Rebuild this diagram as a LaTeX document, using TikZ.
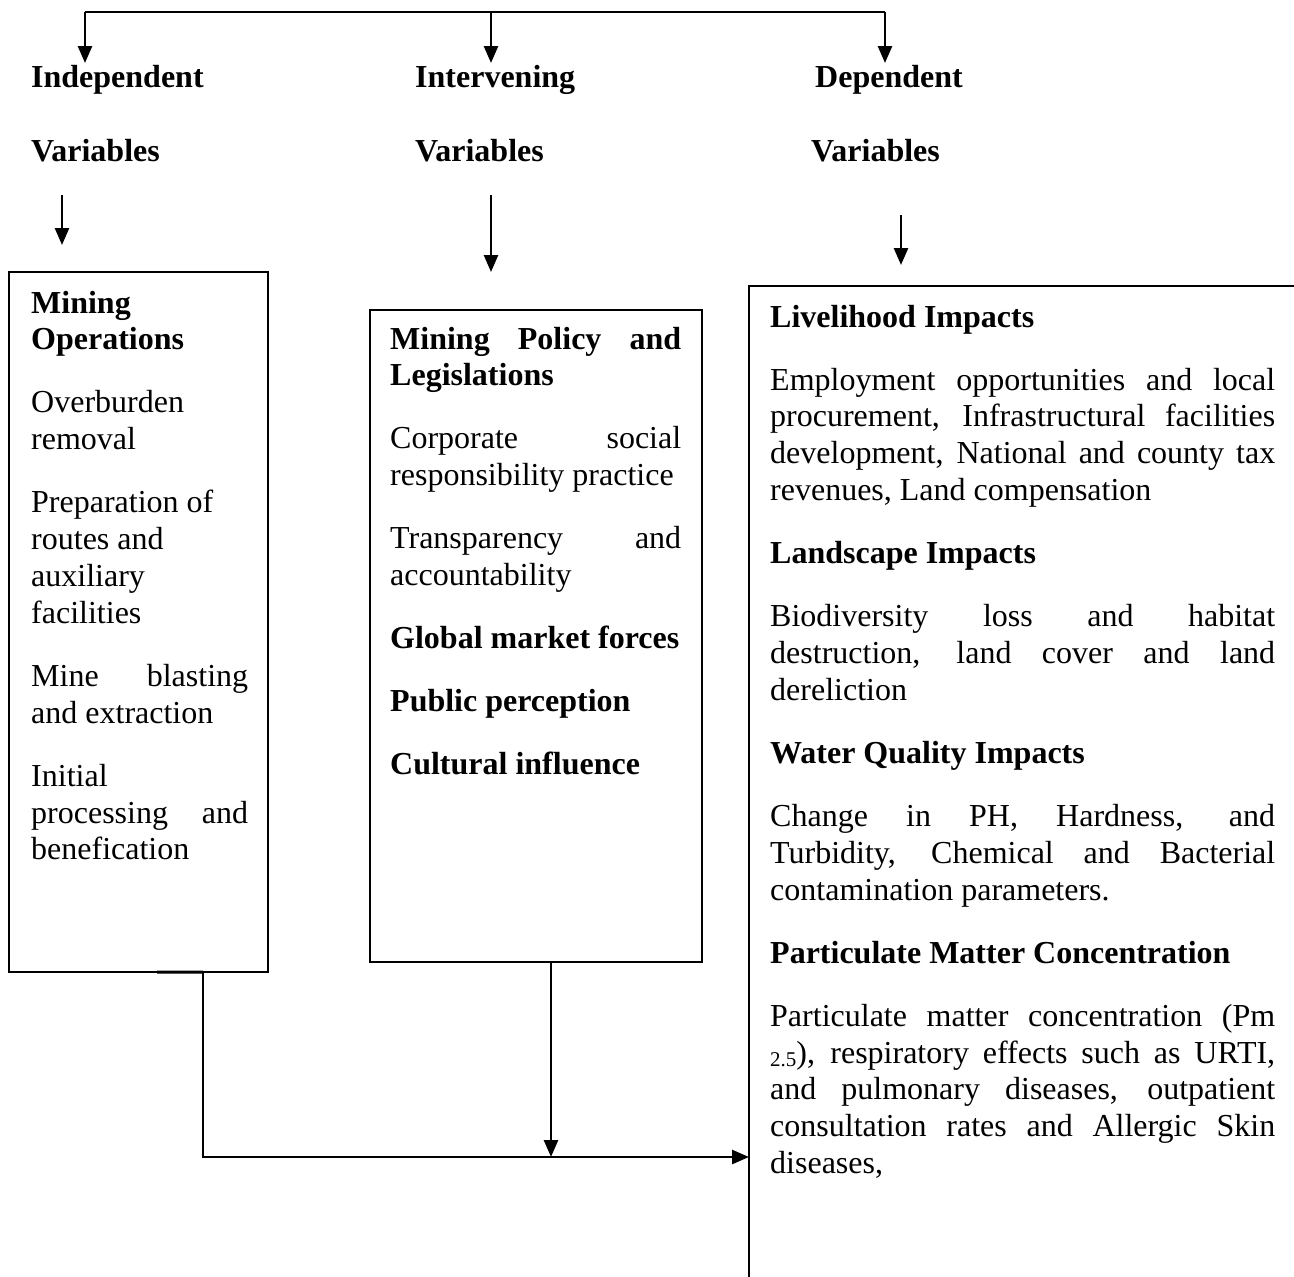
\documentclass[tikz,border=0pt]{standalone}
\usepackage{fontspec}
\setmainfont{Liberation Serif}
\usetikzlibrary{arrows.meta}
\newcommand\bodyfont{\fontsize{32bp}{36.8bp}\selectfont}
\newcommand\boxtext[2]{\parbox[t]{#1}{\setlength\parskip{26.3bp}\hyphenpenalty=10000 \tolerance=10000 \emergencystretch=20bp #2}}
\begin{document}
\begin{tikzpicture}[x=1bp,y=-1bp,
  frame/.style={draw, line width=1.6bp, inner sep=0, outer sep=0, rectangle, anchor=north west},
  arr/.style={line width=2.6bp, -{Triangle[length=17bp,width=14bp]}},
  link/.style={line width=2.6bp},
  hdr/.style={inner sep=0, anchor=base west, font=\bodyfont\bfseries},
  txt/.style={inner sep=0, anchor=base west, font=\bodyfont}]
\clip (0,0) rectangle (1294,1277);
\fill[white] (0,0) rectangle (1294,1277);

% top distributor
\coordinate (tL) at (85,12);
\coordinate (tM) at (491,12);
\coordinate (tR) at (885,12);
\coordinate (eL) at (85,63);
\coordinate (eM) at (491,63);
\coordinate (eR) at (885,63);
\draw[link] (tL) -- (tR);
\draw[arr] (tL) -- (eL);
\draw[arr] (tM) -- (eM);
\draw[arr] (tR) -- (eR);

% headers
\node[hdr] (h1) at (31,87) {Independent};
\node[hdr] (h1v) at (31,161) {Variables};
\node[hdr] (h2) at (415,87) {Intervening};
\node[hdr] (h2v) at (415,161) {Variables};
\node[hdr] (h3) at (815,87) {Dependent};
\node[hdr] (h3v) at (811,161) {Variables};

% arrows below headers
\coordinate (s1) at (62,195);
\coordinate (f1) at (62,245);
\coordinate (s2) at (491,195);
\coordinate (f2) at (491,272);
\coordinate (s3) at (901,215);
\coordinate (f3) at (901,265);
\draw[arr] (s1) -- (f1);
\draw[arr] (s2) -- (f2);
\draw[arr] (s3) -- (f3);

% boxes
\node[frame, minimum width=259bp, minimum height=700bp] (lbox) at (9,272) {};
\node[frame, minimum width=332bp, minimum height=652bp] (mbox) at (370,310) {};
\node[frame, minimum width=620bp, minimum height=1100bp] (rbox) at (749,286) {};

% box texts
\node[txt] (ltext) at (31,313) {\boxtext{217bp}{%
\textbf{Mining\\Operations}\par
Overburden\\removal\par
Preparation of\\routes and\\auxiliary\\facilities\par
Mine blasting\linebreak and extraction\par
Initial\\processing and\linebreak benefication}};

\node[txt] (mtext) at (390,349) {\boxtext{291bp}{%
\textbf{Mining Policy and\linebreak Legislations}\par
Corporate social\linebreak responsibility practice\par
Transparency and\linebreak accountability\par
\textbf{Global market forces}\par
\textbf{Public perception}\par
\textbf{Cultural influence}}};

\node[txt] (rtext) at (770,327) {\boxtext{505bp}{%
\textbf{Livelihood Impacts}\par
Employment opportunities and local\linebreak procurement, Infrastructural facilities\linebreak development, National and county tax\linebreak revenues, Land compensation\par
\textbf{Landscape Impacts}\par
Biodiversity loss and habitat\linebreak destruction, land cover and land\linebreak dereliction\par
\textbf{Water Quality Impacts}\par
Change in PH, Hardness, and\linebreak Turbidity, Chemical and Bacterial\linebreak contamination parameters.\par
\textbf{Particulate Matter Concentration}\par
Particulate matter concentration (Pm\linebreak {\fontsize{21bp}{21bp}\selectfont\raisebox{-3bp}{2.5}}), respiratory effects such as URTI,\linebreak and pulmonary diseases, outpatient\linebreak consultation rates and Allergic Skin\linebreak diseases,}};

% bottom connectors
\coordinate (bend) at (203,1157);
\coordinate (mjoin) at (551,1157);
\coordinate (lstub) at (157,972);
\draw[line width=3bp] (lstub) -- (lbox.south -| bend);
\draw[arr] (lbox.south -| bend) -- (bend) -- (bend -| rbox.west);
\draw[arr] (mbox.south -| mjoin) -- (mjoin);
\end{tikzpicture}
\end{document}
